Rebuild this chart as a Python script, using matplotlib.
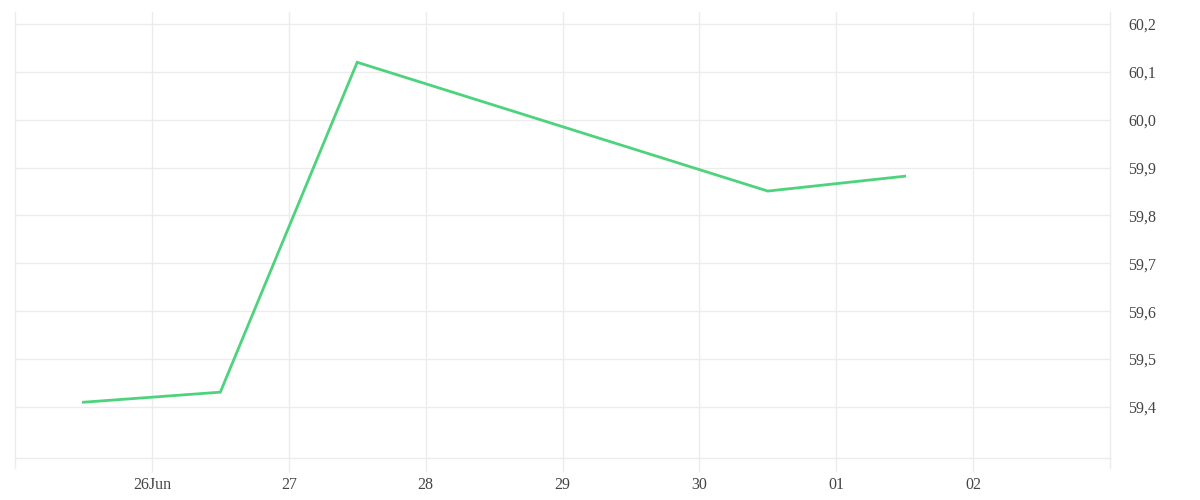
import datetime as dt
import matplotlib
matplotlib.use("Agg")
import matplotlib.pyplot as plt
import matplotlib.dates as mdates
from matplotlib.ticker import FuncFormatter, FixedLocator

# datos
fechas = [dt.datetime(2024, 6, 25, 12), dt.datetime(2024, 6, 26, 12), dt.datetime(2024, 6, 27, 12),
          dt.datetime(2024, 6, 30, 12), dt.datetime(2024, 7, 1, 12)]
valores = [59.41, 59.431, 60.12, 59.851, 59.882]
y_ticks = [59.4, 59.5, 59.6, 59.7, 59.8, 59.9, 60.0, 60.1, 60.2]
x_ticks = [dt.datetime(2024, 6, d) for d in range(26, 31)] + [dt.datetime(2024, 7, 1), dt.datetime(2024, 7, 2)]
x_labels = ["26Jun", "27", "28", "29", "30", "01", "02"]

grid_col = "#ececec"
text_col = "#444444"

plt.rcParams['font.family'] = ['Liberation Serif', 'DejaVu Serif']

fig = plt.figure(figsize=(12, 5), dpi=100)
ax = fig.add_axes([15 / 1200, 1 - 458 / 500, 1095 / 1200, 446 / 500])

ax.plot(fechas, valores, color='#4cd37b', linewidth=2, solid_joinstyle='miter')

ax.set_xlim(dt.datetime(2024, 6, 25), dt.datetime(2024, 7, 3))
ax.set_ylim(59.2935, 60.225)

ax.xaxis.set_major_locator(FixedLocator(mdates.date2num(x_ticks)))
ax.set_xticklabels(x_labels)
ax.set_yticks(y_ticks)
ax.yaxis.set_major_formatter(FuncFormatter(lambda v, p: f"{v:.1f}".replace('.', ',')))

ax.yaxis.tick_right()
ax.tick_params(axis='y', length=0, pad=13, labelsize=11.5, labelcolor=text_col)
ax.tick_params(axis='x', length=10, width=1, color=grid_col, pad=4, labelsize=11.5, labelcolor=text_col)

ax.grid(True, color=grid_col, linewidth=1)
ax.set_axisbelow(True)

ax.spines['top'].set_visible(False)
for s in ['left', 'right', 'bottom']:
    ax.spines[s].set_color(grid_col)
    ax.spines[s].set_linewidth(1)

# lineas verticales de los bordes bajan como ticks
for xe in [dt.datetime(2024, 6, 25), dt.datetime(2024, 7, 3)]:
    ax.plot([xe, xe], [59.2935, 59.2935 - 10 / 478.75], color=grid_col, lw=1, clip_on=False)

fig.savefig("out.png", dpi=100, facecolor='white')
